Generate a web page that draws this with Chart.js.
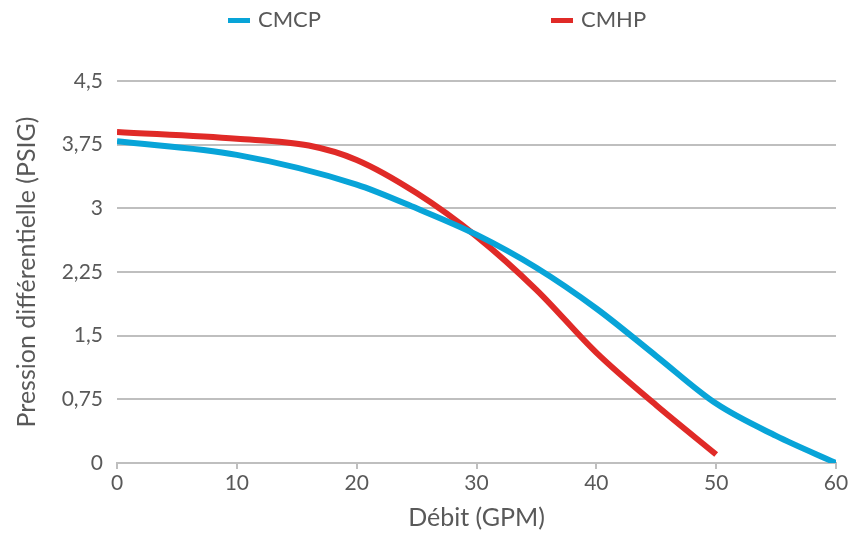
<!DOCTYPE html>
<html>
<head>
<meta charset="utf-8">
<script src="https://cdn.jsdelivr.net/npm/chart.js@4"></script>
<style>
  html, body { margin: 0; padding: 0; background: #fff; }
  #wrap { width: 867px; height: 533px; }
</style>
</head>
<body>
<div id="wrap"><canvas id="pressure"></canvas></div>
<script>
const seriesNames = ["CMCP", "CMHP"];
const cmcpFlow = [0, 10, 20, 25, 30, 35, 40, 45, 50, 55, 60];
const cmcpPressure = [3.79, 3.63, 3.28, 3.0, 2.69, 2.3, 1.82, 1.26, 0.7, 0.32, 0];
const cmhpFlow = [0, 10, 16, 20, 25, 30, 35, 40, 45, 50];
const cmhpPressure = [3.9, 3.82, 3.74, 3.57, 3.18, 2.67, 2.04, 1.3, 0.68, 0.1];
const yTicks = [0, 0.75, 1.5, 2.25, 3, 3.75, 4.5];

const grey = "#595959";
const font = "Lato, 'Open Sans', sans-serif";

function toPoints(xs, ys) {
  return xs.map((x, i) => ({ x: x, y: ys[i] }));
}

// legend drawn by hand so the two items can sit far apart like the original
const topLegend = {
  id: "topLegend",
  afterDraw(chart) {
    const ctx = chart.ctx;
    const spots = [228, 551];
    ctx.save();
    chart.data.datasets.forEach((ds, i) => {
      const x = spots[i];
      ctx.fillStyle = ds.borderColor;
      ctx.fillRect(x, 18, 22, 5);
      ctx.fillStyle = grey;
      ctx.font = "22px " + font;
      ctx.textBaseline = "middle";
      ctx.fillText(ds.label, x + 30, 20);
    });
    ctx.restore();
  },
};

new Chart("pressure", {
  type: "line",
  data: {
    datasets: [
      {
        label: seriesNames[0],
        data: toPoints(cmcpFlow, cmcpPressure),
        borderColor: "#08a4d8",
        borderWidth: 6,
        pointRadius: 0,
        cubicInterpolationMode: "monotone",
        fill: false,
      },
      {
        label: seriesNames[1],
        data: toPoints(cmhpFlow, cmhpPressure),
        borderColor: "#e02a27",
        borderWidth: 6,
        pointRadius: 0,
        cubicInterpolationMode: "monotone",
        fill: false,
      },
    ],
  },
  options: {
    responsive: true,
    maintainAspectRatio: false,
    animation: false,
    layout: { padding: { top: 81, right: 31, left: 0, bottom: 0 } },
    plugins: {
      legend: { display: false },
      tooltip: { enabled: false },
    },
    scales: {
      x: {
        type: "linear",
        min: 0,
        max: 60,
        ticks: { stepSize: 10, color: grey, font: { family: font, size: 21 }, padding: 2 },
        grid: { drawOnChartArea: false, drawTicks: true, tickLength: 6, color: "#bfbfbf", lineWidth: 2 },
        border: { color: "#bfbfbf", width: 2 },
        title: { display: true, text: "Débit (GPM)", color: grey, font: { family: font, size: 25 }, padding: 0 },
        afterFit(scale) { scale.height = 70; },
      },
      y: {
        min: 0,
        max: 4.5,
        afterBuildTicks(scale) { scale.ticks = yTicks.map(v => ({ value: v })); },
        ticks: {
          color: grey,
          font: { family: font, size: 21 },
          padding: 14,
          callback: v => String(v).replace(".", ","),
        },
        grid: { color: "#bfbfbf", lineWidth: 2, drawTicks: false },
        border: { display: false },
        title: { display: true, text: "Pression différentielle (PSIG)", color: grey, font: { family: font, size: 25 }, padding: { top: 12, bottom: 0 } },
        afterFit(scale) { scale.width = 117; },
      },
    },
  },
  plugins: [topLegend],
});
</script>
</body>
</html>
